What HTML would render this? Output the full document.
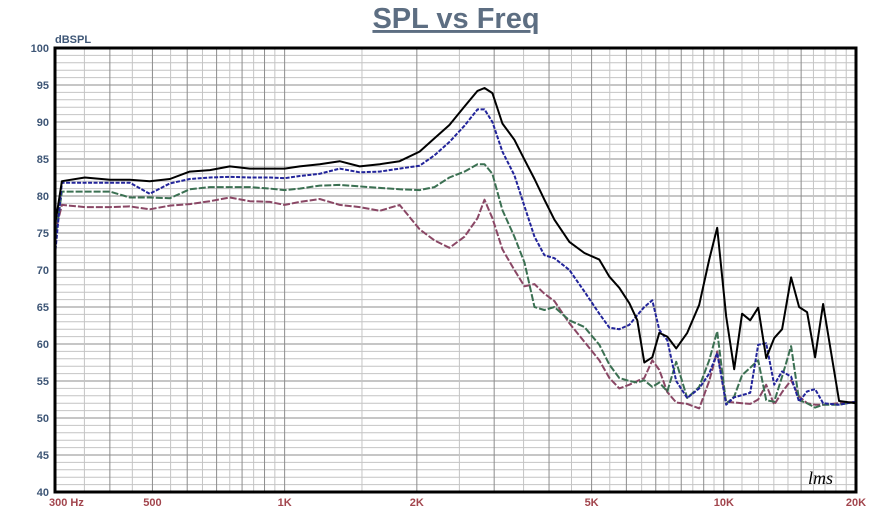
<!DOCTYPE html>
<html><head><meta charset="utf-8"><style>
html,body{margin:0;padding:0;background:#fff;}
svg{display:block;font-family:"Liberation Sans",Arial,sans-serif;}
</style></head><body>
<svg id="chart" width="887" height="528" viewBox="0 0 887 528" xmlns="http://www.w3.org/2000/svg">
<rect width="887" height="528" fill="#fff"/>
<text x="456" y="28" text-anchor="middle" font-size="29" font-weight="bold" fill="#5d6e82" text-decoration="underline">SPL vs Freq</text>
<text x="55" y="43" font-size="11" font-weight="bold" fill="#3e5676">dBSPL</text>
<g id="grid"></g>
<g id="ylabels"></g>
<g id="xlabels"></g>
<g id="series"></g>
<rect x="55" y="48" width="801" height="444" fill="none" stroke="#000" stroke-width="3"/>
<text x="808" y="484" font-size="18" font-style="italic" font-family="Liberation Serif, serif" fill="#000">lms</text>
</svg>
<script>
const freqs=[300,311,351,400,444,493,548,608,676,750,833,925,1000,1082,1202,1335,1482,1646,1827,2029,2194,2373,2568,2749,2851,2973,3132,3336,3517,3706,3904,4114,4451,4814,5207,5489,5783,6095,6354,6592,6873,7131,7437,7793,8255,8792,9265,9661,10127,10560,11010,11483,11975,12488,13022,13579,14234,14843,15480,16142,16830,18300,20000];
const blackSeries=[76,82,82.5,82.2,82.2,82,82.3,83.3,83.5,84,83.7,83.7,83.7,84,84.3,84.7,84,84.3,84.7,86,87.8,89.6,92.1,94.2,94.6,93.9,89.8,87.6,84.9,82.3,79.5,76.8,73.8,72.3,71.4,69.1,67.6,65.5,63.2,57.5,58.2,61.5,61,59.4,61.5,65.3,71.4,75.7,63.7,56.6,64.1,63.2,64.9,58.1,60.8,62,69,65,64.3,58.2,65.4,52.3,52];
const blueSeries=[72,81.8,81.8,81.8,81.8,80.3,81.7,82.3,82.5,82.6,82.5,82.5,82.4,82.7,83,83.7,83.2,83.3,83.7,84.1,85.5,87.3,89.5,91.7,91.7,90,86,82.8,78.6,74.5,72,71.6,70,67.1,64.1,62.2,62,62.6,63.9,65,65.9,61.9,60.5,55,52.7,54,56,58.8,51.8,52.8,53.1,53.4,59.9,60.1,54.5,56.3,55.6,52.2,53.6,53.9,52,51.8,52.2];
const greenSeries=[74,80.6,80.6,80.6,79.8,79.8,79.7,80.9,81.2,81.2,81.2,81,80.8,81,81.4,81.5,81.3,81.1,80.9,80.8,81.2,82.5,83.3,84.3,84.3,83,78.1,74.5,71,65,64.6,65,63.2,62.3,59.9,57.2,55.4,55,54.8,55.1,54.2,54.8,53.6,57.6,52.7,54.2,57.8,61.7,51.9,52.9,55.8,56.8,57.8,52.4,52.2,55.6,59.7,52.4,52,51.4,51.8,51.8,52.2];
const pinkSeries=[75,78.8,78.5,78.5,78.6,78.2,78.7,78.9,79.3,79.8,79.3,79.2,78.8,79.2,79.6,78.8,78.5,78,78.8,75.5,74,73,74.5,77,79.5,77,72.8,70,67.8,68.1,66.8,65.8,62.8,60.3,57.8,55.4,54,54.5,55,55.4,57.8,56.5,53.5,52.1,51.9,51.3,55,59,52.2,52.1,52,51.9,52.5,54.5,51.8,53.5,55.1,52.9,52,51.8,51.8,52,52.2];
const yTicks=[40,45,50,55,60,65,70,75,80,85,90,95,100];
const xTickFreqs=[300,500,1000,2000,5000,10000,20000];
const xTickLabels=["300  Hz","500","1K","2K","5K","10K","20K"];

const X0=55,X1=856,Y0=48,Y1=492,FMIN=300,FMAX=20000,DBMIN=40,DBMAX=100;
const xs=f=>X0+(X1-X0)*Math.log10(f/FMIN)/Math.log10(FMAX/FMIN);
const ys=d=>Y1-(Y1-Y0)*(d-DBMIN)/(DBMAX-DBMIN);
const NS="http://www.w3.org/2000/svg";
function mk(tag,attrs,parent){const e=document.createElementNS(NS,tag);for(const k in attrs)e.setAttribute(k,attrs[k]);parent.appendChild(e);return e;}

const grid=document.getElementById('grid');
for(let d=DBMIN;d<=DBMAX;d++){
  const major=d%5===0;
  const l=mk('line',{x1:X0,x2:X1,y1:ys(d),y2:ys(d),stroke:major?'#8c8c8c':'#c4c4c4','stroke-width':1},grid);
  
  
}
const vf=[];
for(let f=350;f<1000;f+=50)vf.push([f,f%100===0]);
for(let f=1000;f<10000;f+=500)vf.push([f,f%1000===0]);
for(let f=10000;f<20000;f+=1000)vf.push([f,f%10000===0||f%5000===0]);
vf.forEach(([f,maj])=>{
  const l=mk('line',{x1:xs(f),x2:xs(f),y1:Y0,y2:Y1,stroke:maj?'#8c8c8c':'#c4c4c4','stroke-width':1},grid);
  
  
});

const yl=document.getElementById('ylabels');
yTicks.forEach(t=>{
  const e=mk('text',{x:49,y:ys(t)+4,'text-anchor':'end','font-size':11,'font-weight':'bold',fill:'#3e5676'},yl);
  e.textContent=t;
  
  
});
const xl=document.getElementById('xlabels');
xTickFreqs.forEach((f,i)=>{
  const first=i===0;
  const e=mk('text',{x:first?49:xs(f),y:506,'text-anchor':first?'start':'middle','font-size':11,'font-weight':'bold',fill:'#a2454d','xml:space':'preserve'},xl);
  e.textContent=xTickLabels[i];
  
  
});

const sg=document.getElementById('series');
function drawSeries(vals,color,dash,width,name){
  const d=vals.map((v,i)=>(i?'L':'M')+xs(freqs[i]).toFixed(1)+','+ys(v).toFixed(1)).join(' ');
  const p=mk('path',{d:d,fill:'none',stroke:color,'stroke-width':width,'stroke-linejoin':'round'},sg);
  if(dash)p.setAttribute('stroke-dasharray',dash);
  
  
}
drawSeries(pinkSeries,'#8a4765','7,2',2,'series-pink');
drawSeries(greenSeries,'#3b7052','7,2',2,'series-green');
drawSeries(blueSeries,'#22249a','4,1.5',2,'series-blue');
drawSeries(blackSeries,'#000','',2,'series-black');
</script>
</body></html>
